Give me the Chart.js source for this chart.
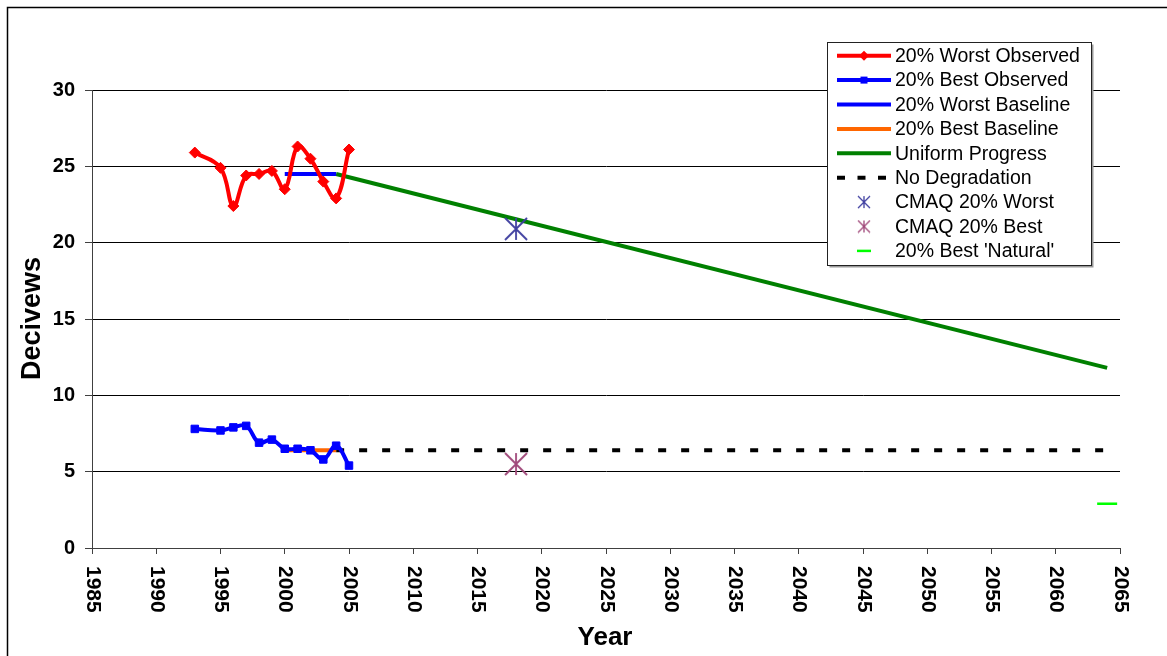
<!DOCTYPE html>
<html><head><meta charset="utf-8">
<style>html,body{margin:0;padding:0;background:#fff;} #wrap{position:relative;width:1167px;height:656px;}</style>
<script src="https://cdn.jsdelivr.net/npm/chart.js@4.4.0/dist/chart.umd.min.js"></script>
</head><body><div id="wrap"><canvas id="c" width="1167" height="656"></canvas></div>
<script>
// ---- data ----
const obsYears = [1993,1995,1996,1997,1998,1999,2000,2001,2002,2003,2004,2005];
const worstObserved = [25.9,24.9,22.4,24.4,24.5,24.7,23.5,26.3,25.5,24.0,22.9,26.1];
const bestObserved = [7.8,7.7,7.9,8.0,6.9,7.1,6.5,6.5,6.4,5.8,6.7,5.4];
const baselineYears = [2000,2004];
const worstBaseline = [24.5,24.5];
const bestBaseline = [6.4,6.4];
const progressYears = [2004,2064];
const uniformProgress = [24.5,11.8];
const noDegradation = [6.4,6.4];
const cmaqYears = [2018];
const cmaqWorst = [20.9];
const cmaqBest = [5.5];
const naturalYears = [2064];
const bestNatural = [2.9];
const xTickLabels = [1985,1990,1995,2000,2005,2010,2015,2020,2025,2030,2035,2040,2045,2050,2055,2060,2065];
const yTickLabels = [0,5,10,15,20,25,30];
const legendLabels = ["20% Worst Observed","20% Best Observed","20% Worst Baseline","20% Best Baseline","Uniform Progress","No Degradation","CMAQ 20% Worst","CMAQ 20% Best","20% Best 'Natural'"];

const FONT = '"Liberation Sans", Arial, sans-serif';
const pts = (xs, ys) => xs.map((x, i) => ({x: x, y: ys[i]}));

function starImg(color, size, lw) {
  const c = document.createElement('canvas');
  c.width = c.height = size;
  const g = c.getContext('2d');
  g.strokeStyle = color; g.lineWidth = lw;
  const m = size / 2;
  g.beginPath();
  g.moveTo(m, 1); g.lineTo(m, size - 1);
  g.moveTo(1, 1); g.lineTo(size - 1, size - 1);
  g.moveTo(size - 1, 1); g.lineTo(1, size - 1);
  g.stroke();
  return c;
}
const CMAQW = '#3F3FA0', CMAQB = '#A0487A';
const starW = starImg(CMAQW, 24, 1.8), starB = starImg(CMAQB, 24, 1.8);
const starWs = starImg(CMAQW, 14, 1.3), starBs = starImg(CMAQB, 14, 1.3);

const frame = {
  id: 'frame',
  beforeDraw(chart) {
    const ctx = chart.ctx;
    ctx.save();
    ctx.fillStyle = '#fff'; ctx.fillRect(0, 0, chart.width, chart.height);
    ctx.strokeStyle = '#000'; ctx.lineWidth = 1.5;
    ctx.strokeRect(7.5, 7.5, 1300, 800);
    ctx.restore();
  },
  afterDraw(chart) {
    const ctx = chart.ctx, xs = chart.scales.x;
    ctx.save();
    // x tick labels rotated clockwise
    ctx.fillStyle = '#000';
    ctx.font = 'bold 21px ' + FONT;
    ctx.textAlign = 'left'; ctx.textBaseline = 'middle';
    xTickLabels.forEach(v => {
      const x = xs.getPixelForValue(v);
      ctx.save(); ctx.translate(x + 0.5, 566); ctx.rotate(Math.PI / 2);
      ctx.fillText(String(v), 0, 0); ctx.restore();
    });
    // axis titles
    ctx.font = 'bold 26px ' + FONT; ctx.textAlign = 'center'; ctx.textBaseline = 'alphabetic';
    ctx.fillText('Year', 605, 645);
    ctx.save(); ctx.translate(40, 318.5); ctx.rotate(-Math.PI / 2);
    ctx.font = 'bold 27px ' + FONT; ctx.fillText('Decivews', 0, 0); ctx.restore();

    // legend
    const L = 827.5, T = 42.5, W = 264, H = 223;
    ctx.fillStyle = '#9a9a9a'; ctx.fillRect(L + 2, T + 2, W, H);
    ctx.fillStyle = '#fff'; ctx.fillRect(L, T, W, H);
    ctx.strokeStyle = '#222'; ctx.lineWidth = 1; ctx.strokeRect(L, T, W, H);
    const ds = chart.data.datasets;
    ctx.font = '19.5px ' + FONT; ctx.textAlign = 'left'; ctx.textBaseline = 'middle';
    legendLabels.forEach((lab, i) => {
      const y = 55.7 + i * 24.4, x0 = 837, x1 = 891, xm = 864;
      const d = ds[i];
      ctx.save();
      if (i <= 5) {
        ctx.strokeStyle = d.borderColor; ctx.lineWidth = 4; ctx.lineCap = 'butt';
        if (d.borderDash) ctx.setLineDash([8, 12.5]);
        ctx.beginPath();
        ctx.moveTo(x0, y); ctx.lineTo(x1, y);
        ctx.stroke();
        ctx.setLineDash([]);
        if (i === 0) { ctx.fillStyle = d.borderColor; ctx.beginPath(); ctx.moveTo(xm, y - 5); ctx.lineTo(xm + 5, y); ctx.lineTo(xm, y + 5); ctx.lineTo(xm - 5, y); ctx.closePath(); ctx.fill(); }
        if (i === 1) { ctx.fillStyle = d.borderColor; ctx.fillRect(xm - 3.5, y - 3.5, 7, 7); }
      } else if (i === 6) { ctx.drawImage(starWs, xm - 7, y - 7); }
      else if (i === 7) { ctx.drawImage(starBs, xm - 7, y - 7); }
      else { ctx.strokeStyle = d.pointBorderColor; ctx.lineWidth = 2.5; ctx.beginPath(); ctx.moveTo(xm - 7, y); ctx.lineTo(xm + 7, y); ctx.stroke(); }
      ctx.restore();
      ctx.fillStyle = '#000';
      ctx.fillText(lab, 895, y + 1);
    });
    ctx.restore();
  }
};

new Chart(document.getElementById('c'), {
  type: 'line',
  data: {
    datasets: [
      {label: legendLabels[0], data: pts(obsYears, worstObserved), borderColor: '#FF0000', backgroundColor: '#FF0000', borderWidth: 4, tension: 0.4,
        pointStyle: 'rectRot', pointRadius: 5.5, pointBackgroundColor: '#FF0000', pointBorderColor: '#FF0000', pointBorderWidth: 1, order: 1},
      {label: legendLabels[1], data: pts(obsYears, bestObserved), borderColor: '#0000FF', backgroundColor: '#0000FF', borderWidth: 4, tension: 0.4,
        pointStyle: 'rect', pointRadius: 5.3, pointBackgroundColor: '#0000FF', pointBorderColor: '#0000FF', pointBorderWidth: 1, order: 2},
      {label: legendLabels[2], data: pts(baselineYears, worstBaseline), borderColor: '#0000FF', borderWidth: 4, pointRadius: 0, order: 3},
      {label: legendLabels[3], data: pts(baselineYears, bestBaseline), borderColor: '#FF6600', borderWidth: 4, pointRadius: 0, order: 3},
      {label: legendLabels[4], data: pts(progressYears, uniformProgress), borderColor: '#008000', borderWidth: 4, pointRadius: 0, order: 4},
      {label: legendLabels[5], data: pts(progressYears, noDegradation), borderColor: '#000000', borderWidth: 4, borderDash: [8, 15], borderCapStyle: 'butt', pointRadius: 0, order: 4},
      {label: legendLabels[6], data: pts(cmaqYears, cmaqWorst), showLine: false, pointStyle: starW, pointRadius: 12, order: 0},
      {label: legendLabels[7], data: pts(cmaqYears, cmaqBest), showLine: false, pointStyle: starB, pointRadius: 12, order: 0},
      {label: legendLabels[8], data: pts(naturalYears, bestNatural), showLine: false, pointStyle: 'line', pointRadius: 10, pointBorderColor: '#00FF00', pointBorderWidth: 2.5, order: 0}
    ]
  },
  options: {
    responsive: false, animation: false, devicePixelRatio: 1,
    layout: {padding: {left: 0, top: 90, right: 47, bottom: 0}},
    plugins: {legend: {display: false}, tooltip: {enabled: false}},
    scales: {
      x: {type: 'linear', min: 1985, max: 2065,
        afterBuildTicks: s => { s.ticks = xTickLabels.map(v => ({value: v})); },
        ticks: {display: false},
        grid: {drawOnChartArea: false, drawTicks: true, tickLength: 6, color: '#404040'},
        border: {display: true, color: '#404040', width: 1},
        afterFit: s => { s.height = 108; }
      },
      y: {type: 'linear', min: 0, max: 30,
        afterBuildTicks: s => { s.ticks = yTickLabels.map(v => ({value: v})); },
        ticks: {color: '#000', font: {family: FONT, size: 20, weight: 'bold'}, padding: 10},
        grid: {color: '#000', lineWidth: 1, tickLength: 7, tickColor: '#404040'},
        border: {display: true, color: '#404040', width: 1},
        afterFit: s => { s.width = 92; }
      }
    }
  },
  plugins: [frame]
});
</script></body></html>
